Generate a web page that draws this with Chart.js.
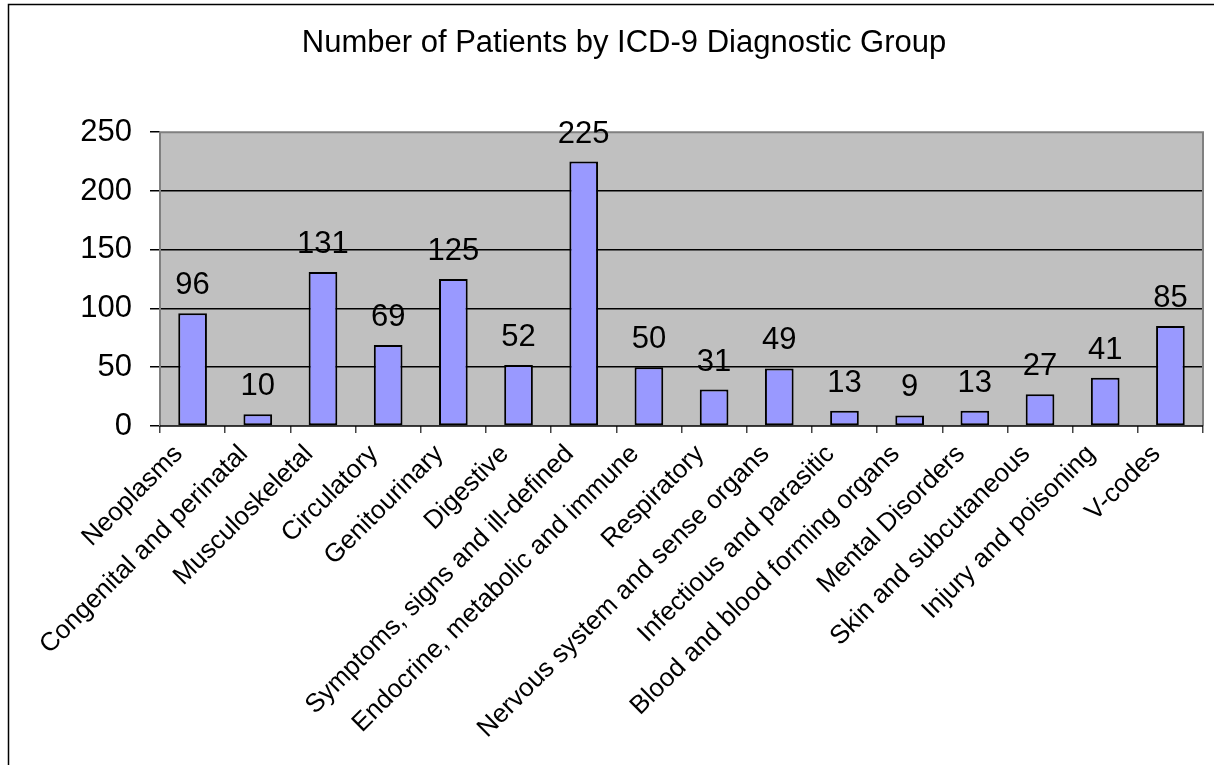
<!DOCTYPE html>
<html>
<head>
<meta charset="utf-8">
<script src="https://cdn.jsdelivr.net/npm/chart.js@4.4.1/dist/chart.umd.min.js"></script>
<style>
  html, body { margin: 0; padding: 0; background: #fff; }
  #wrap { width: 1214px; height: 765px; position: relative; }
</style>
</head>
<body>
<div id="wrap"><canvas id="grafico"></canvas></div>
<script>
// Grupos diagnósticos (eixo x)
const grupos = [
  'Neoplasms', 'Congenital and perinatal', 'Musculoskeletal', 'Circulatory',
  'Genitourinary', 'Digestive', 'Symptoms, signs and ill-defined',
  'Endocrine, metabolic and immune', 'Respiratory', 'Nervous system and sense organs',
  'Infectious and parasitic', 'Blood and blood forming organs', 'Mental Disorders',
  'Skin and subcutaneous', 'Injury and poisoning', 'V-codes'
];

// Número de pacientes por grupo
const pacientes = [96, 10, 131, 69, 125, 52, 225, 50, 31, 49, 13, 9, 13, 27, 41, 85];

// Marcas do eixo y
const marcasY = [0, 50, 100, 150, 200, 250];

const fonte = "'Liberation Sans', Arial, sans-serif";

// Fundo cinza da área do gráfico + moldura externa
const fundoPlugin = {
  id: 'fundo',
  beforeDraw(chart) {
    const { ctx, chartArea: a, width, height } = chart;
    ctx.save();
    ctx.fillStyle = '#fff';
    ctx.fillRect(0, 0, width, height);
    ctx.strokeStyle = '#000';
    ctx.lineWidth = 1.5;
    ctx.strokeRect(8.5, 4.5, width + 20, height + 20);
    ctx.fillStyle = '#c0c0c0';
    ctx.fillRect(a.left, a.top, a.right - a.left, a.bottom - a.top);
    ctx.restore();
  },
  afterDatasetsDraw(chart) {
    const { ctx, chartArea: a } = chart;
    ctx.save();
    ctx.strokeStyle = '#808080';
    ctx.lineWidth = 2;
    ctx.beginPath();
    ctx.moveTo(a.left, a.bottom);
    ctx.lineTo(a.left, a.top);
    ctx.lineTo(a.right, a.top);
    ctx.lineTo(a.right, a.bottom);
    ctx.stroke();
    ctx.strokeStyle = '#000';
    ctx.lineWidth = 1.5;
    ctx.beginPath();
    ctx.moveTo(a.left, a.bottom);
    ctx.lineTo(a.right, a.bottom);
    ctx.stroke();
    ctx.restore();
  }
};

// Rótulos de valor acima das barras
const rotulosPlugin = {
  id: 'rotulos',
  afterDatasetsDraw(chart) {
    const { ctx } = chart;
    const meta = chart.getDatasetMeta(0);
    ctx.save();
    ctx.font = '31px ' + fonte;
    ctx.fillStyle = '#000';
    ctx.textAlign = 'center';
    ctx.textBaseline = 'alphabetic';
    meta.data.forEach((barra, i) => {
      ctx.fillText(String(pacientes[i]), barra.x, barra.y - 19);
    });
    ctx.restore();
  }
};

const ctx = document.getElementById('grafico').getContext('2d');
new Chart(ctx, {
  type: 'bar',
  data: {
    labels: grupos,
    datasets: [{
      data: pacientes,
      backgroundColor: '#9999ff',
      borderColor: '#000',
      borderWidth: 2,
      borderSkipped: false,
      categoryPercentage: 1,
      barPercentage: 0.44
    }]
  },
  options: {
    responsive: true,
    maintainAspectRatio: false,
    animation: false,
    layout: { padding: { left: 45, right: 11, top: 0, bottom: 0 } },
    plugins: {
      legend: { display: false },
      tooltip: { enabled: false },
      title: {
        display: true,
        text: 'Number of Patients by ICD-9 Diagnostic Group',
        color: '#000',
        font: { family: fonte, size: 31, weight: 'normal' },
        padding: { top: 25, bottom: 70 }
      }
    },
    scales: {
      x: {
        offset: true,
        grid: {
          offset: true,
          drawOnChartArea: false,
          drawTicks: true,
          tickLength: 7,
          color: '#444',
          lineWidth: 1.5
        },
        border: { display: false },
        ticks: {
          autoSkip: false,
          maxRotation: 45,
          minRotation: 45,
          color: '#000',
          padding: 6,
          labelOffset: -14,
          font: { family: fonte, size: 26 }
        },
        afterFit(scale) { scale.height = 339; }
      },
      y: {
        min: 0,
        max: 250,
        afterBuildTicks(scale) { scale.ticks = marcasY.map(v => ({ value: v })); },
        grid: {
          color: ctx => (ctx.tick && (ctx.tick.value === 250 || ctx.tick.value === 0)) ? 'rgba(0,0,0,0)' : '#000',
          lineWidth: 1.5,
          tickLength: 10,
          tickColor: '#000'
        },
        border: { display: false },
        ticks: {
          color: '#000',
          padding: 18,
          font: { family: fonte, size: 31 }
        },
        afterFit(scale) { scale.width = 115; }
      }
    }
  },
  plugins: [fundoPlugin, rotulosPlugin]
});
</script>
</body>
</html>
